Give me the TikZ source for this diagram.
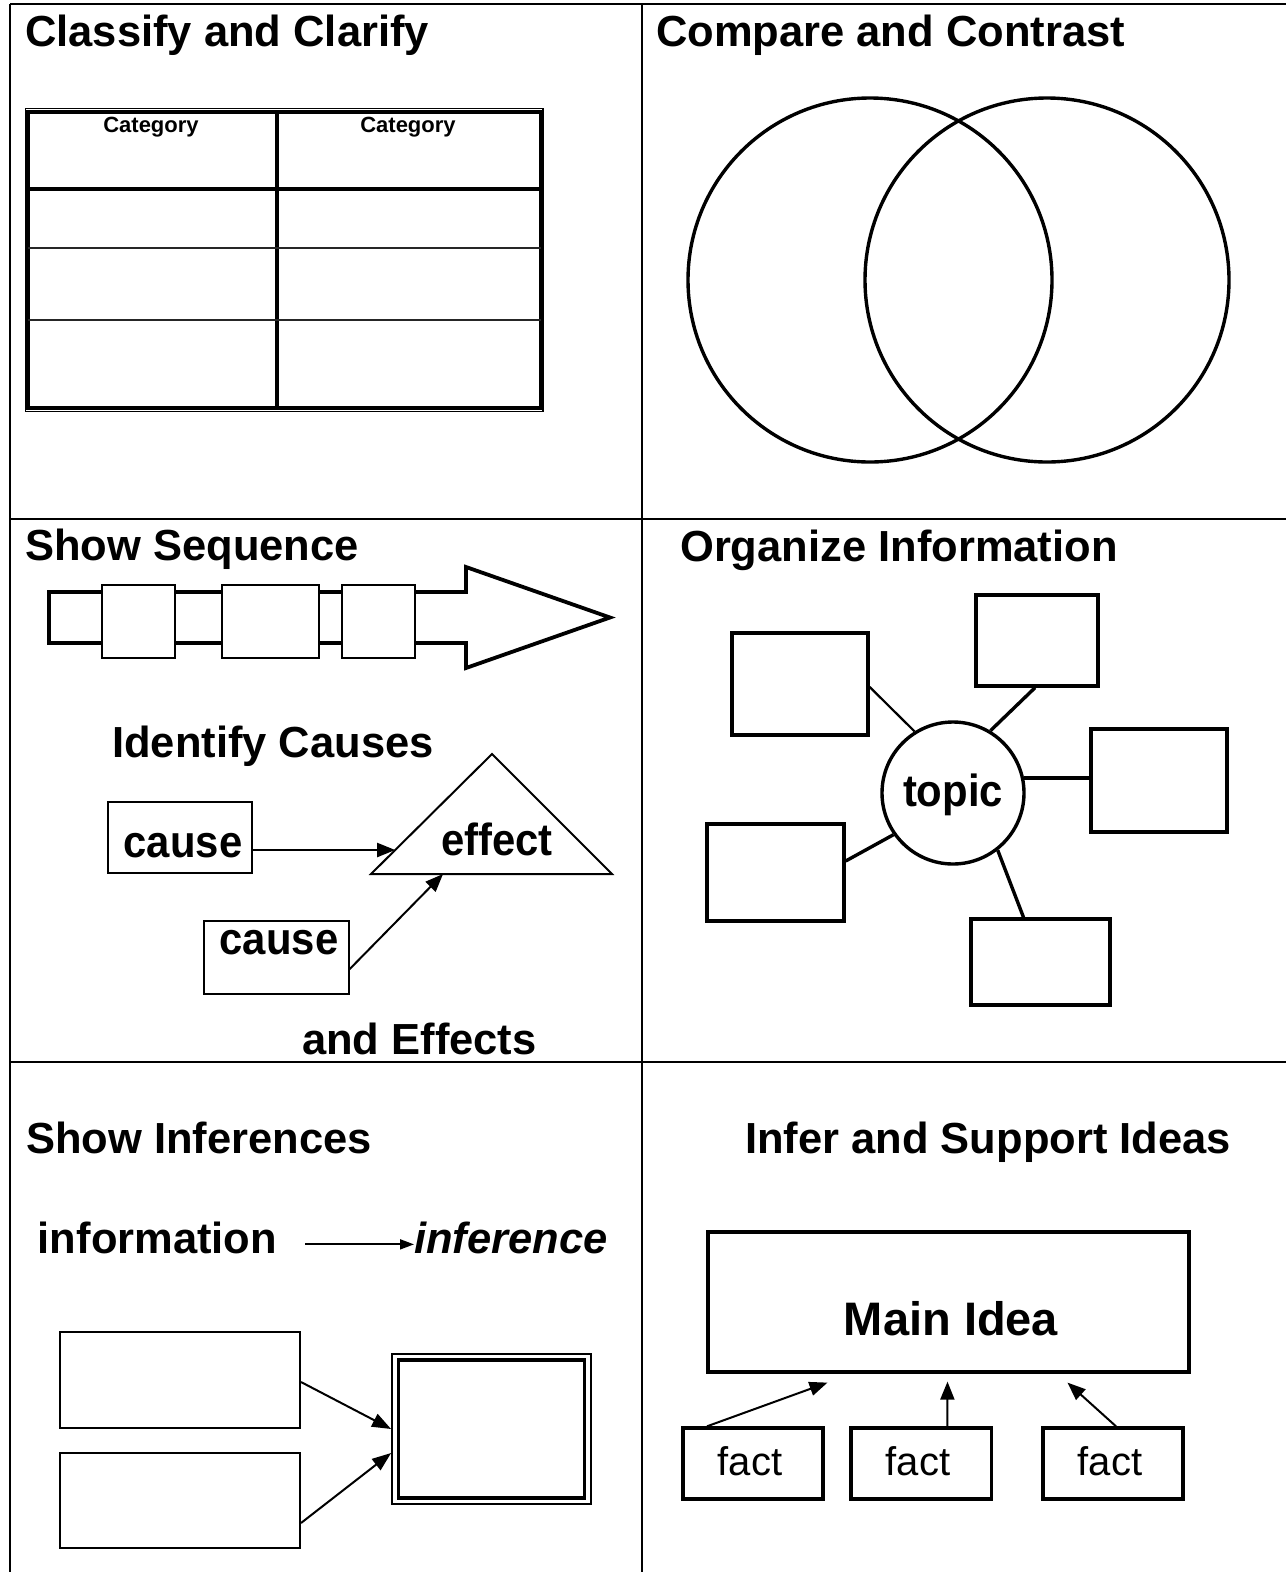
\documentclass[tikz,border=0pt]{standalone}
\usepackage{fontspec}
\setmainfont{Liberation Sans}
\newfontfamily\narrowsans{Liberation Sans}[FakeStretch=0.93]
\usetikzlibrary{arrows.meta,calc}

\tikzset{
  gridline/.style={line width=2.5pt},
  heading/.style={anchor=base west, inner sep=0pt, font=\fontsize{43.5}{50}\selectfont\bfseries},
  catlabel/.style={anchor=base, inner sep=0pt, font=\fontsize{22}{26}\selectfont\bfseries},
  bigword/.style={anchor=base, inner sep=0pt, font=\narrowsans\fontsize{45}{52}\selectfont\bfseries},
  factword/.style={anchor=base, inner sep=0pt, font=\fontsize{40}{46}\selectfont},
  thinbox/.style={draw, line width=2pt, inner sep=0pt, fill=white},
  heavybox/.style={draw, line width=3.4pt, inner sep=0pt},
  hub/.style={draw, circle, line width=3.4pt, inner sep=0pt, minimum size=142pt},
  venn/.style={draw, circle, line width=3.4pt, inner sep=0pt, minimum size=364pt},
  spoke/.style={line width=3.4pt},
  link/.style={line width=2pt, -{Triangle[length=18pt,width=14pt]}},
}

\begin{document}
\begin{tikzpicture}[x=1pt,y=-1pt]
\fill[white] (0,0) rectangle (1286,1572);
\useasboundingbox (0,0) rectangle (1286,1572);

% frame
\draw[gridline] (10,4) -- (1286,4);
\draw[gridline] (10,4) -- (10,1572);
\draw[gridline] (642,4) -- (642,1572);
\draw[gridline] (10,519) -- (1286,519);
\draw[gridline] (10,1062) -- (1286,1062);

% classify and clarify
\node[heading] (hClassify) at (25,46) {Classify and Clarify};
\draw[line width=1.5pt] (25.5,108.5) rectangle (543,411.5);
\draw[line width=3.2pt] (28,112) rectangle (540.5,408);
\draw[line width=3.5pt] (277,112) -- (277,408);
\draw[line width=3.5pt] (28,189) -- (540.5,189);
\draw[line width=2.2pt, black!85] (28,248) -- (540.5,248);
\draw[line width=2.2pt, black!85] (28,320) -- (540.5,320);
\node[catlabel] (catL) at (151,132) {Category};
\node[catlabel] (catR) at (408,132) {Category};

% compare and contrast
\node[heading] (hCompare) at (656,46) {Compare and Contrast};
\node[venn] (setA) at (870,280) {};
\node[venn] (setB) at (1047,280) {};

% show sequence
\node[heading] (hSequence) at (25,560) {Show Sequence};
\draw[line width=3.8pt, line join=miter] (49,592) -- (466,592) -- (466,567) -- (610,617.5)
  -- (466,668) -- (466,643) -- (49,643) -- cycle;
\node[thinbox, minimum width=73pt, minimum height=73pt] (step1) at (138.5,621.5) {};
\node[thinbox, minimum width=97pt, minimum height=73pt] (step2) at (270.5,621.5) {};
\node[thinbox, minimum width=73pt, minimum height=73pt] (step3) at (378.5,621.5) {};

% identify causes and effects
\node[heading] (hCauses) at (112,757) {Identify Causes};
\node[heading] (hEffects) at (302,1054) {and Effects};
\node[thinbox, minimum width=144pt, minimum height=71pt] (causeBoxA) at (180,837.5) {};
\node[thinbox, minimum width=144.5pt, minimum height=72.5pt] (causeBoxB) at (276.25,957.25) {};
\node[bigword] (causeA) at (183,857) {cause};
\node[bigword] (causeB) at (279,954) {cause};
\coordinate (effTop) at (492,754);
\coordinate (effL) at (371,874);
\coordinate (effR) at (612,874);
\draw[line width=2pt, line join=miter] (effTop) -- (effL) -- (effR) -- cycle;
\node[bigword] (effect) at (497,855) {effect};
\coordinate (effHit) at ($(effL)!0.2!(effTop)$);
\coordinate (effBase) at ($(effL)!0.299!(effR)$);
\draw[link] (causeBoxA.east |- effHit) -- (effHit);
\draw[link] ([yshift=-12pt]causeBoxB.east) -- (effBase);

% organize information
\node[heading] (hOrganize) at (680,561) {Organize Information};
\node[hub] (topic) at (953,793) {};
\node[bigword] (topicword) at (953,806) {topic};
\node[heavybox, minimum width=136pt, minimum height=102pt] (boxA) at (800,684) {};
\node[heavybox, minimum width=122pt, minimum height=91pt] (boxB) at (1037,640.5) {};
\node[heavybox, minimum width=136pt, minimum height=103pt] (boxC) at (1159,780.5) {};
\node[heavybox, minimum width=137pt, minimum height=97pt] (boxD) at (775.5,872.5) {};
\node[heavybox, minimum width=139pt, minimum height=86pt] (boxE) at (1040.5,962) {};
\draw[line width=2.2pt] ([yshift=-3pt]boxA.east) -- (topic.122);
\draw[spoke] ([xshift=-2pt]boxB.south) -- (topic.59);
\draw[spoke] (topic.12) -- (topic.12 -| boxC.west);
\draw[spoke] ([yshift=11.5pt]boxD.east) -- (topic.215);
\draw[spoke] ([xshift=-17pt]boxE.north) -- (topic.-52);

% show inferences
\node[heading] (hInferences) at (26,1153) {Show Inferences};
\node[heading] (info) at (37.7,1253) {information};
\node[heading, font=\fontsize{43.5}{50}\selectfont\bfseries\itshape] (infer) at (414,1253) {inference};
\draw[line width=1.8pt, -{Triangle[length=14pt,width=10pt]}]
  ([xshift=28pt,yshift=6pt]info.mid east) -- ([yshift=6pt]infer.mid west);
\node[thinbox, minimum width=240.5pt, minimum height=96pt] (clueA) at (179.75,1380) {};
\node[thinbox, minimum width=240.5pt, minimum height=95pt] (clueB) at (179.75,1500.5) {};
\node[draw, line width=1.8pt, inner sep=0pt, minimum width=199pt, minimum height=150pt] (concl) at (491.5,1429) {};
\node[draw, line width=3.2pt, inner sep=0pt, minimum width=186pt, minimum height=138pt] (conclIn) at (491.5,1429) {};
\draw[link, -{Triangle[length=19pt,width=14pt]}] ([yshift=-2pt]clueA.east) -- (concl.west);
\draw[link, -{Triangle[length=19pt,width=14pt]}] ([yshift=-22.5pt]clueB.east) -- ([yshift=-24pt]concl.west);

% infer and support ideas
\node[heading] (hSupport) at (745,1153) {Infer and Support Ideas};
\node[heavybox, line width=3.2pt, minimum width=481pt, minimum height=140pt] (idea) at (948.5,1302) {};
\node[bigword, font=\fontsize{47}{54}\selectfont\bfseries] (ideaword) at (951,1335) {Main Idea};
\node[heavybox, minimum width=140pt, minimum height=71pt] (fact1) at (753,1463.5) {};
\node[heavybox, minimum width=140.5pt, minimum height=71pt] (fact2) at (921.25,1463.5) {};
\node[heavybox, minimum width=140pt, minimum height=71pt] (fact3) at (1113,1463.5) {};
\node[factword] (factA) at (750,1475) {fact};
\node[factword] (factB) at (918,1475) {fact};
\node[factword] (factC) at (1110,1475) {fact};
\draw[link, -{Triangle[length=18pt,width=14pt]}]
  ([xshift=-46pt]fact1.north) -- ([xshift=-121pt,yshift=-9pt]idea.south);
\draw[link, -{Triangle[length=18pt,width=14pt]}]
  ([xshift=26pt]fact2.north) -- ([xshift=-1pt,yshift=-8pt]idea.south);
\draw[link, -{Triangle[length=18pt,width=14pt]}]
  ([xshift=3pt]fact3.north) -- ([xshift=119pt,yshift=-9pt]idea.south);
\end{tikzpicture}
\end{document}
